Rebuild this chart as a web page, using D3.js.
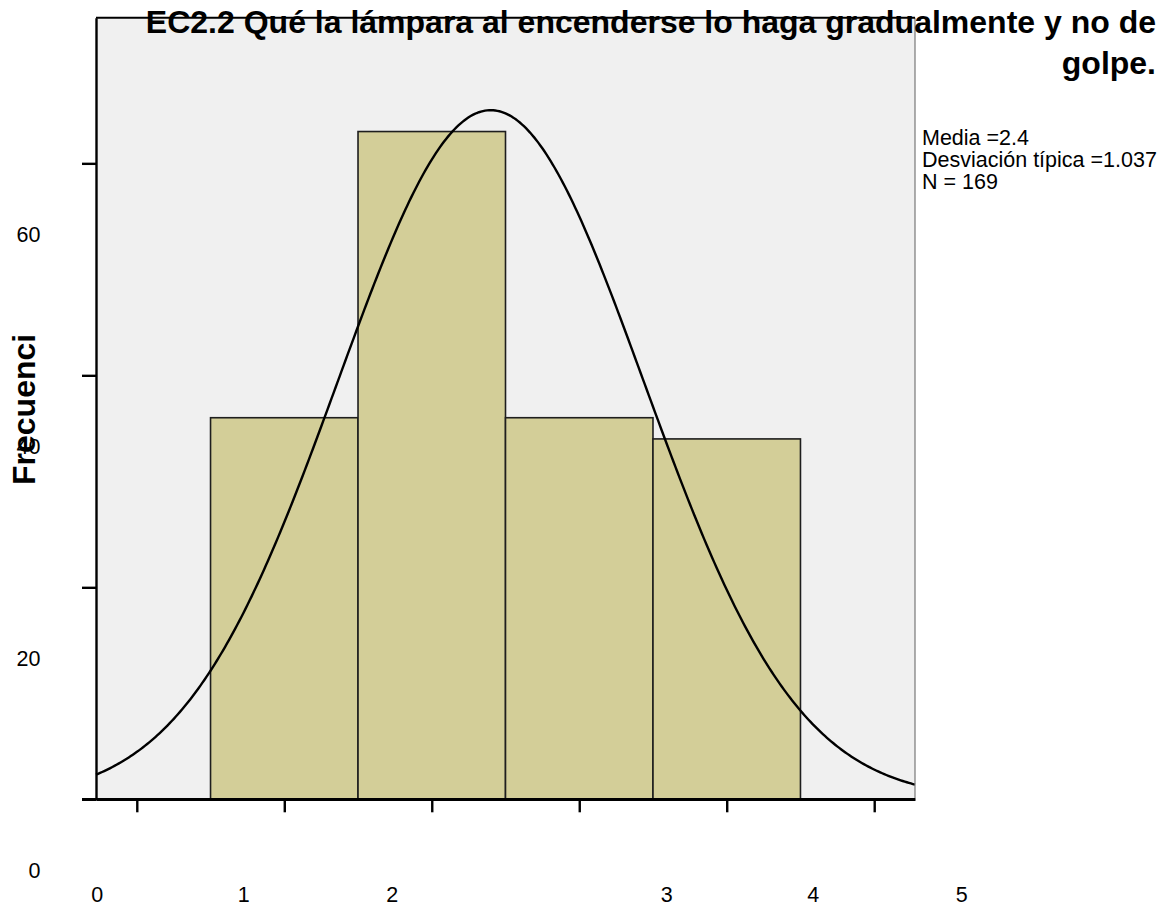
<!DOCTYPE html>
<html lang="es">

<head>
  <meta charset="UTF-8">
  <title>histograma EC2.2</title>
  <script src="https://cdn.jsdelivr.net/npm/d3@7"></script>
  <style>
    body { margin: 0; background: #fff; }
    svg { display: block; font-family: "Liberation Sans", Arial, sans-serif; }
  </style>
</head>

<body>
  <svg id="chart"></svg>
</body>

</html>
<script>
  const categories = [1, 2, 3, 4];
  const counts = [36, 63, 36, 34];
  const yTicks = [0, 20, 40, 60];
  const xTicks = [0, 1, 2, 3, 4, 5];
  const stats = { media: 2.4, sd: 1.037, n: 169 };
  const titleLines = [
    'EC2.2 Qué la lámpara al encenderse lo haga gradualmente y no de',
    'golpe.'
  ];
  const legendLines = ['Media =2.4', 'Desviación típica =1.037', 'N = 169'];

  // las etiquetas salen desplazadas como en la salida original
  const xLabelShift = [-40, -41, -40, 87, 86, 87];

  const width = 1167, height = 909;
  const plot = { left: 96, top: 17.7, right: 915, bottom: 799.3 };

  const svg = d3.select('#chart')
    .attr('width', width)
    .attr('height', height);

  const x = d3.scaleLinear()
    .domain([-0.2766, 5.2766])
    .range([plot.left, plot.right]);

  const y = d3.scaleLinear()
    .domain([0, 73.74])
    .range([plot.bottom, plot.top]);

  svg.append('rect')
    .attr('x', plot.left)
    .attr('y', plot.top)
    .attr('width', plot.right - plot.left)
    .attr('height', plot.bottom - plot.top)
    .attr('fill', '#f0f0f0');

  // barras
  svg.append('g')
    .selectAll('rect')
    .data(categories)
    .join('rect')
    .attr('x', d => x(d - 0.5))
    .attr('y', (d, i) => y(counts[i]))
    .attr('width', d => x(d + 0.5) - x(d - 0.5))
    .attr('height', (d, i) => y(0) - y(counts[i]))
    .attr('fill', '#d3ce98')
    .attr('stroke', '#1e1e1e')
    .attr('stroke-width', 1.6);

  // curva normal con la media y la desviacion
  const normal = v => stats.n / (stats.sd * Math.sqrt(2 * Math.PI)) *
    Math.exp(-0.5 * Math.pow((v - stats.media) / stats.sd, 2));

  const xs = d3.range(0, 401).map(i => x.invert(plot.left + i * (plot.right - plot.left) / 400));

  svg.append('path')
    .datum(xs)
    .attr('fill', 'none')
    .attr('stroke', '#000')
    .attr('stroke-width', 2.4)
    .attr('d', d3.line().x(d => x(d)).y(d => y(normal(d))));

  // marco
  svg.append('line')
    .attr('x1', plot.right).attr('x2', plot.right)
    .attr('y1', plot.top).attr('y2', plot.bottom)
    .attr('stroke', '#777').attr('stroke-width', 1.2);
  svg.append('line')
    .attr('x1', plot.left).attr('x2', plot.right)
    .attr('y1', plot.top).attr('y2', plot.top)
    .attr('stroke', '#000').attr('stroke-width', 2);

  // eje y
  const yAxis = svg.append('g')
    .attr('transform', `translate(${plot.left},0)`)
    .call(d3.axisLeft(y).tickValues(yTicks).tickSize(14).tickSizeOuter(0));
  yAxis.select('.domain').attr('stroke-width', 2.4);
  yAxis.selectAll('.tick line').attr('stroke-width', 2.4);
  yAxis.selectAll('.tick text')
    .attr('x', 40.5 - plot.left)
    .attr('y', 78)
    .attr('dy', null)
    .attr('font-size', 21.5)
    .attr('font-family', '"Liberation Sans", Arial, sans-serif')
    .attr('fill', '#000');

  // eje x
  const xAxis = svg.append('g')
    .attr('transform', `translate(0,${plot.bottom})`)
    .call(d3.axisBottom(x).tickValues(xTicks).tickFormat(d3.format('d')).tickSize(13).tickSizeOuter(0));
  xAxis.select('.domain').attr('stroke-width', 2.4);
  xAxis.selectAll('.tick line').attr('stroke-width', 2.4);
  xAxis.selectAll('.tick text')
    .attr('x', (d, i) => xLabelShift[i])
    .attr('y', 102.7)
    .attr('dy', null)
    .attr('font-size', 21.5)
    .attr('font-family', '"Liberation Sans", Arial, sans-serif')
    .attr('fill', '#000');

  // linea base hasta la marca del cero
  svg.append('line')
    .attr('x1', plot.left - 14).attr('x2', plot.right)
    .attr('y1', plot.bottom).attr('y2', plot.bottom)
    .attr('stroke', '#000').attr('stroke-width', 2.4);

  // titulo del eje y
  svg.append('text')
    .attr('transform', 'translate(35,485) rotate(-90)')
    .attr('font-size', 32)
    .attr('font-weight', 'bold')
    .text('Frecuenci');

  // titulo
  svg.append('g')
    .selectAll('text')
    .data(titleLines)
    .join('text')
    .attr('x', 1156)
    .attr('y', (d, i) => 33 + i * 41)
    .attr('text-anchor', 'end')
    .attr('font-size', 32)
    .attr('font-weight', 'bold')
    .text(d => d);

  // leyenda
  svg.append('g')
    .selectAll('text')
    .data(legendLines)
    .join('text')
    .attr('x', 922)
    .attr('y', (d, i) => 145 + i * 22)
    .attr('font-size', 21.5)
    .text(d => d);
</script>
